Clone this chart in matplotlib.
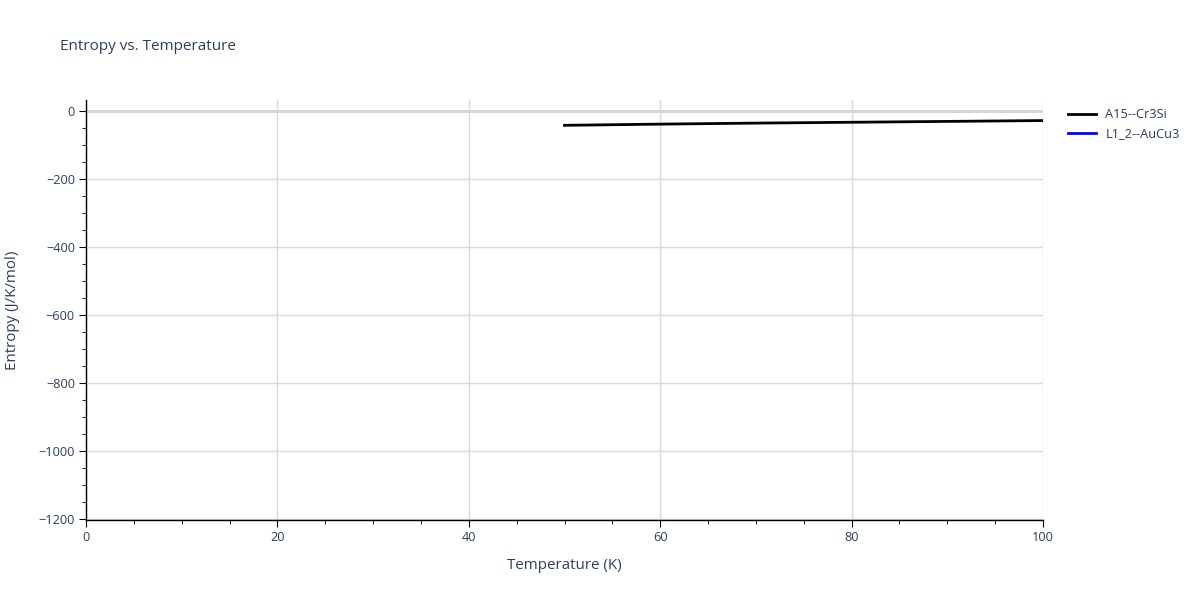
import matplotlib
matplotlib.use("Agg")
import matplotlib.pyplot as plt
from matplotlib.ticker import MultipleLocator, FuncFormatter

temps_a15 = [50, 60, 70, 80, 90, 100]
entropy_a15 = [-41.5, -38.0, -35.0, -32.5, -30.0, -27.5]
temps_l12 = []
entropy_l12 = []

series_names = ["A15--Cr3Si", "L1_2--AuCu3"]
series_colors = ["black", "blue"]

txt = "#2a3f5f"
plt.rcParams["font.family"] = ["Open Sans", "DejaVu Sans"]

fig = plt.figure(figsize=(12, 6), dpi=100)
ax = fig.add_axes([86/1200, 1 - 520/600, (1043-86)/1200, (520-100)/600])

ax.plot(temps_a15, entropy_a15, color=series_colors[0], lw=2, label=series_names[0], zorder=3)
ax.plot(temps_l12, entropy_l12, color=series_colors[1], lw=2, label=series_names[1], zorder=3)

ax.set_xlim(0, 100)
ax.set_ylim(-1203, 33)
ax.xaxis.set_major_locator(MultipleLocator(20))
ax.xaxis.set_minor_locator(MultipleLocator(5))
ax.yaxis.set_major_locator(MultipleLocator(200))
ax.yaxis.set_minor_locator(MultipleLocator(50))
ax.yaxis.set_major_formatter(FuncFormatter(lambda v, p: f"{int(v)}".replace("-", "\u2212")))

ax.grid(True, which="major", color="#d9d9d9", lw=1, zorder=0)
ax.axhline(0, color="#d0d0d0", lw=2, zorder=1)

for s in ["top", "right"]:
    ax.spines[s].set_visible(False)
for s in ["left", "bottom"]:
    ax.spines[s].set_color("black")
    ax.spines[s].set_linewidth(1)

ax.tick_params(which="major", direction="out", length=5, color="black", labelsize=9.2, labelcolor=txt, pad=3)
ax.tick_params(which="minor", direction="out", length=3, color="black")

ax.set_xlabel("Temperature (K)", fontsize=10.9, color=txt, labelpad=10)
ax.set_ylabel("Entropy (J/K/mol)", fontsize=10.9, color=txt, labelpad=13)

fig.text(60/1200, 1 - 46/600, "Entropy vs. Temperature", fontsize=11, color=txt, va="center", ha="left")

leg = ax.legend(loc="upper left", bbox_to_anchor=(1.021, 0.993), frameon=False,
                fontsize=9.2, handlelength=2.2, labelcolor=txt, borderaxespad=0, labelspacing=0.5,
                handletextpad=0.7)

fig.savefig("out.png", dpi=100)
